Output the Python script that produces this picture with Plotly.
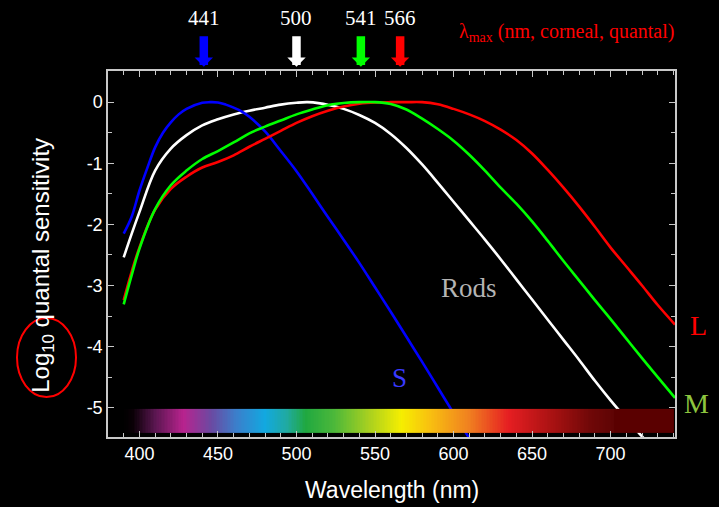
import plotly.graph_objects as go

# ---------------- data ----------------
S_NM = [390, 395, 400, 405, 410, 415, 420, 425, 430, 440, 445, 450, 455, 460, 465, 470, 480, 490, 500, 510, 520, 530, 540, 550, 560, 570, 580, 590, 600, 610, 620]
S_LOG = [-2.15, -1.88, -1.45, -1.08, -0.74, -0.50, -0.33, -0.20, -0.11, -0.01, 0.0, -0.005, -0.04, -0.09, -0.15, -0.24, -0.48, -0.80, -1.13, -1.50, -1.88, -2.25, -2.63, -3.03, -3.43, -3.84, -4.25, -4.67, -5.09, -5.50, -5.90]

ROD_NM = [390, 395, 400, 410, 420, 430, 440, 450, 460, 470, 480, 490, 500, 507, 515, 520, 530, 540, 550, 560, 570, 580, 590, 600, 610, 620, 630, 640, 650, 660, 670, 680, 690, 700, 710, 720, 730]
ROD_LOG = [-2.54, -2.16, -1.80, -1.12, -0.76, -0.54, -0.38, -0.28, -0.20, -0.14, -0.09, -0.04, -0.01, 0.0, -0.02, -0.045, -0.11, -0.21, -0.34, -0.52, -0.75, -1.02, -1.32, -1.63, -1.94, -2.25, -2.57, -2.90, -3.23, -3.56, -3.89, -4.22, -4.56, -4.88, -5.18, -5.47, -5.76]

M_NM = [390, 395, 400, 410, 420, 430, 440, 450, 460, 470, 480, 490, 500, 510, 520, 530, 540, 550, 560, 570, 580, 590, 600, 610, 620, 630, 640, 650, 660, 670, 680, 690, 700, 710, 720, 730, 741]
M_LOG = [-3.31, -2.84, -2.40, -1.75, -1.36, -1.12, -0.93, -0.80, -0.66, -0.51, -0.40, -0.30, -0.20, -0.12, -0.05, -0.015, 0.0, 0.0, -0.03, -0.12, -0.27, -0.44, -0.63, -0.86, -1.12, -1.40, -1.66, -1.95, -2.27, -2.60, -2.92, -3.24, -3.55, -3.87, -4.19, -4.50, -4.84]

L_NM = [390, 395, 400, 410, 420, 430, 440, 450, 460, 470, 480, 490, 500, 510, 520, 530, 540, 550, 560, 570, 580, 590, 600, 610, 620, 630, 640, 650, 660, 670, 680, 690, 700, 710, 720, 730, 741]
L_LOG = [-3.24, -2.78, -2.38, -1.76, -1.42, -1.22, -1.07, -0.98, -0.87, -0.73, -0.60, -0.47, -0.34, -0.23, -0.14, -0.07, -0.025, -0.005, 0.0, 0.0, 0.0, -0.035, -0.11, -0.20, -0.31, -0.45, -0.62, -0.84, -1.11, -1.40, -1.71, -2.04, -2.38, -2.69, -3.00, -3.32, -3.64]

PEAK_NM = [441, 500, 541, 566]
PEAK_LABELS = ["441", "500", "541", "566"]
PEAK_COLORS = ["#0000ff", "#ffffff", "#00ff00", "#ff0000"]

X_TICKS = [400, 450, 500, 550, 600, 650, 700]
Y_TICKS = [0, -1, -2, -3, -4, -5]
Y_TICK_TEXT = ["0", "-1", "-2", "-3", "-4", "-5"]

# visible-spectrum strip: wavelength stops and colours
SPEC_NM = [390, 396, 410, 428, 446, 462, 480, 494, 506, 524, 546, 567, 585, 610, 635, 667, 687, 702.4, 702.6, 740]
SPEC_COL = ["#000000", "#0a0006", "#5a1650", "#b8238e", "#6a4aa2", "#3a80cc", "#12a8e0", "#20aaa0", "#20a840",
            "#4cb83a", "#a8d020", "#f6ee00", "#f8c010", "#f08020", "#e61e22", "#a01010", "#700808", "#5e0404", "#5a0000", "#5a0000"]
SPEC_X = list(range(390, 741))
SPEC_Y = [-5.12, -5.32]

fig = go.Figure()

def add_curve(x, y, color):
    fig.add_trace(go.Scatter(x=x, y=y, mode="lines", line=dict(color=color, width=2.6, shape="spline", smoothing=1.0),
                             showlegend=False, hoverinfo="skip"))

add_curve(ROD_NM, ROD_LOG, "#ffffff")
add_curve(S_NM, S_LOG, "#0000ff")
add_curve(L_NM, L_LOG, "#ff0000")
add_curve(M_NM, M_LOG, "#00ff00")

# spectrum strip on an overlaying axis pair so that it is drawn above the curves
lo, hi = SPEC_NM[0], SPEC_NM[-1]
cscale = [[(n - lo) / (hi - lo), c] for n, c in zip(SPEC_NM, SPEC_COL)]
fig.add_trace(go.Heatmap(x=SPEC_X, y=SPEC_Y, z=[SPEC_X, SPEC_X], colorscale=cscale, zmin=lo, zmax=hi,
                         showscale=False, hoverinfo="skip", xaxis="x2", yaxis="y2"))

XR = [380, 741]
YR = [-5.48, 0.51]
axis_col = "#c8c8c8"
tickfont = dict(family="Arial, Liberation Sans", size=18, color="#ffffff")

fig.update_layout(
    width=719, height=507,
    margin=dict(l=108, r=44, t=71, b=70),
    paper_bgcolor="#000000", plot_bgcolor="#000000",
    showlegend=False,
    xaxis=dict(range=XR, tickvals=X_TICKS, ticks="inside", ticklen=6, tickwidth=1.3, tickcolor=axis_col,
               showline=True, linecolor=axis_col, linewidth=1.5, mirror="allticks",
               showgrid=False, zeroline=False, tickfont=tickfont,
               minor=dict(dtick=10, tick0=400, ticks="inside", ticklen=4, tickcolor=axis_col, tickwidth=1)),
    yaxis=dict(range=YR, tickvals=Y_TICKS, ticktext=Y_TICK_TEXT, ticks="inside", ticklen=6, tickwidth=1.3,
               tickcolor=axis_col, showline=True, linecolor=axis_col, linewidth=1.5, mirror="allticks",
               showgrid=False, zeroline=False, tickfont=tickfont,
               minor=dict(dtick=0.5, tick0=0, ticks="inside", ticklen=4, tickcolor=axis_col, tickwidth=1)),
    xaxis2=dict(range=XR, overlaying="x", visible=False),
    yaxis2=dict(range=YR, overlaying="y", visible=False),
)

sans = "Arial, Liberation Sans"
serif = "Liberation Serif, Times New Roman"

def note(text, x, y, size, color, family, xref="paper", yref="paper", **kw):
    fig.add_annotation(text=text, x=x, y=y, xref=xref, yref=yref, showarrow=False,
                       xanchor=kw.pop("xanchor", "center"), yanchor="middle",
                       font=dict(family=family, size=size, color=color), **kw)

# axis titles
note("Wavelength (nm)", 0.501, -0.145, 23, "#ffffff", sans)
note("Log<sub>10</sub> quantal sensitivity", -0.115, 0.47, 24, "#ffffff", sans, textangle=-90)

# red ellipse round "Log10"
fig.add_shape(type="circle", xref="paper", yref="paper", x0=-0.1605, x1=-0.0564, y0=0.109, y1=0.325,
              line=dict(color="#ff0000", width=2))

# peak arrows and labels
for nm, lab, col in zip(PEAK_NM, PEAK_LABELS, PEAK_COLORS):
    fig.add_annotation(x=nm, xref="x", y=1.0115, yref="paper", ax=0, ay=-32, text="",
                       showarrow=True, arrowhead=1, arrowwidth=8.5, arrowsize=0.36, arrowcolor=col)
    note(lab, nm, 1.145, 21, "#ffffff", serif, xref="x")

note("λ<sub>max</sub> (nm, corneal, quantal)", 0.6155, 1.104, 20, "#ff0000", serif, xanchor="left")

note("Rods", 610, -3.04, 27, "#b4b4b4", serif, xref="x", yref="y")
note("S", 565.6, -4.51, 27, "#3a3aff", serif, xref="x", yref="y")
note("L", 1.0406, 0.3033, 28, "#ff0000", serif)
note("M", 1.0388, 0.0902, 28, "#8dc63f", serif)

fig.write_html("out.html", config={"displayModeBar": False},
               post_script="document.body.style.margin='0';document.body.style.overflow='hidden';")
